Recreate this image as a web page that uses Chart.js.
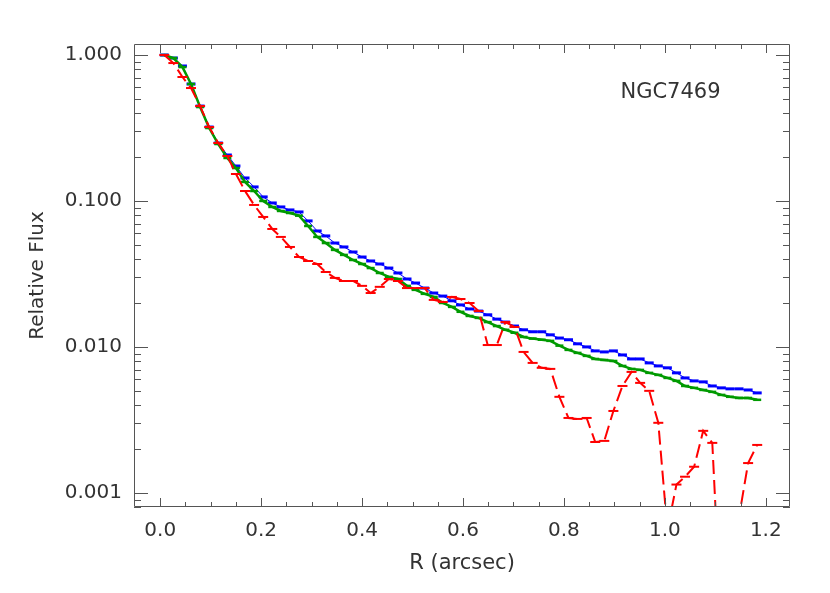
<!DOCTYPE html>
<html>
<head>
<meta charset="utf-8">
<script src="https://cdn.jsdelivr.net/npm/chart.js@4/dist/chart.umd.min.js"></script>
<style>
  html, body { margin: 0; padding: 0; background: #fff; }
  canvas { display: block; }
</style>
</head>
<body>
<canvas id="profile" width="830" height="593"></canvas>
<script>
// radius of each annulus (arcsec)
const radius = [
  0.008, 0.026, 0.044, 0.061, 0.079, 0.097, 0.115, 0.133, 0.150, 0.168,
  0.186, 0.204, 0.222, 0.239, 0.257, 0.275, 0.293, 0.311, 0.328, 0.346,
  0.364, 0.382, 0.400, 0.417, 0.435, 0.453, 0.471, 0.489, 0.506, 0.524,
  0.542, 0.560, 0.578, 0.595, 0.613, 0.631, 0.649, 0.667, 0.684, 0.702,
  0.720, 0.738, 0.756, 0.773, 0.791, 0.809, 0.827, 0.845, 0.862, 0.880,
  0.898, 0.916, 0.934, 0.951, 0.969, 0.987, 1.005, 1.023, 1.040, 1.058,
  1.076, 1.094, 1.112, 1.129, 1.147, 1.165, 1.183
];

const blueFlux = [
  1.000, 0.954, 0.841, 0.633, 0.447, 0.321, 0.2495, 0.2065, 0.1736, 0.1437,
  0.1248, 0.1066, 0.0969, 0.0910, 0.0868, 0.0841, 0.0730, 0.0623, 0.0576, 0.0515,
  0.0484, 0.0447, 0.0413, 0.0388, 0.0370, 0.0347, 0.0321, 0.0292, 0.0274, 0.0253,
  0.0234, 0.0223, 0.0207, 0.0194, 0.0182, 0.0176, 0.0166, 0.0155, 0.0148, 0.0139,
  0.0131, 0.0127, 0.0127, 0.0121, 0.0115, 0.0112, 0.0105, 0.0100, 0.00939, 0.00924,
  0.00939, 0.00881, 0.00827, 0.00827, 0.00777, 0.00741, 0.00719, 0.00664, 0.00613, 0.00585,
  0.00576, 0.00540, 0.00524, 0.00516, 0.00516, 0.00507, 0.00484
];

const greenFlux = [
  1.000, 0.954, 0.827, 0.633, 0.440, 0.316, 0.2456, 0.197, 0.168, 0.135,
  0.117, 0.100, 0.0910, 0.0854, 0.0827, 0.0793, 0.0674, 0.0567, 0.0515, 0.0462,
  0.0427, 0.0394, 0.0370, 0.0347, 0.0321, 0.0302, 0.0292, 0.0262, 0.0246, 0.0231,
  0.0220, 0.0200, 0.0188, 0.0174, 0.0163, 0.0158, 0.0148, 0.0139, 0.0131, 0.0125,
  0.0117, 0.0114, 0.0112, 0.0110, 0.0102, 0.00954, 0.00910, 0.00868, 0.00827, 0.00814,
  0.00801, 0.00741, 0.00707, 0.00696, 0.00664, 0.00643, 0.00613, 0.00585, 0.00540, 0.00524,
  0.00507, 0.00492, 0.00469, 0.00455, 0.00447, 0.00447, 0.00434
];

const redFlux = [
  1.000, 0.881, 0.707, 0.594, 0.447, 0.321, 0.2495, 0.2033, 0.1531, 0.117,
  0.0939, 0.0777, 0.0643, 0.0567, 0.0484, 0.0413, 0.0388, 0.0370, 0.0326, 0.0297,
  0.0283, 0.0283, 0.0262, 0.0234, 0.0258, 0.0292, 0.0283, 0.0253, 0.0253, 0.0253,
  0.0210, 0.0203, 0.0220, 0.0213, 0.0200, 0.0176, 0.0103, 0.0103, 0.0148, 0.0137,
  0.00924, 0.00777, 0.00719, 0.00707, 0.00455, 0.00326, 0.00321, 0.00326, 0.00223, 0.00227,
  0.00364, 0.00540, 0.00674, 0.00567, 0.00500, 0.00302, 0.000558, 0.00114, 0.00129, 0.00151,
  0.00266, 0.00220, 0.00012, 0.00012, 0.000685, 0.00160, 0.00213
];

const xTickValues = [0.0, 0.2, 0.4, 0.6, 0.8, 1.0, 1.2];
const yTickValues = [0.001, 0.01, 0.1, 1];

const axisColor = '#555';
const textColor = '#333';
const fontFamily = "'DejaVu Sans', sans-serif";

function points(values) {
  return radius.map((r, i) => ({ x: r, y: values[i] }));
}

// IDL style box: inward ticks on all four sides
const frameTicks = {
  id: 'frameTicks',
  afterDraw(chart) {
    const { ctx, chartArea: a, scales: { x, y } } = chart;
    ctx.save();
    ctx.strokeStyle = axisColor;
    ctx.lineWidth = 1;
    ctx.beginPath();
    ctx.rect(a.left + 0.5, a.top + 0.5, a.right - a.left - 1, a.bottom - a.top - 1);

    for (let k = 0; k <= 25; k++) {
      const v = k * 0.05;
      const px = Math.round(x.getPixelForValue(v)) + 0.5;
      if (px < a.left || px > a.right) continue;
      const len = k % 4 === 0 ? 9 : 5;
      ctx.moveTo(px, a.bottom);
      ctx.lineTo(px, a.bottom - len);
      ctx.moveTo(px, a.top);
      ctx.lineTo(px, a.top + len);
    }

    for (let d = -4; d <= 0; d++) {
      for (let m = 1; m <= 9; m++) {
        const v = m * Math.pow(10, d);
        if (v < y.min || v > y.max) continue;
        const py = Math.round(y.getPixelForValue(v)) + 0.5;
        const len = m === 1 ? 14 : 7;
        ctx.moveTo(a.left, py);
        ctx.lineTo(a.left + len, py);
        ctx.moveTo(a.right, py);
        ctx.lineTo(a.right - len, py);
      }
    }
    ctx.stroke();

    ctx.fillStyle = textColor;
    ctx.font = '21px ' + fontFamily;
    ctx.textAlign = 'left';
    ctx.textBaseline = 'middle';
    ctx.fillText('NGC7469', x.getPixelForValue(0.912), y.getPixelForValue(0.55));
    ctx.restore();
  }
};

new Chart(document.getElementById('profile'), {
  type: 'line',
  data: {
    datasets: [
      {
        label: 'red',
        data: points(redFlux),
        borderColor: '#ff0000',
        backgroundColor: '#ff0000',
        borderWidth: 2,
        borderDash: [14, 6],
        pointStyle: 'line',
        pointRadius: 5,
        pointBorderWidth: 2,
        order: 0
      },
      {
        label: 'green',
        data: points(greenFlux),
        borderColor: '#009a00',
        backgroundColor: '#009a00',
        borderWidth: 2.5,
        pointStyle: 'line',
        pointRadius: 4,
        pointBorderWidth: 2.5,
        order: 1
      },
      {
        label: 'blue',
        data: points(blueFlux),
        borderColor: '#0000ff',
        backgroundColor: '#0000ff',
        borderWidth: 1,
        pointStyle: 'line',
        pointRadius: 4.5,
        pointBorderWidth: 3,
        order: 2
      }
    ]
  },
  options: {
    responsive: false,
    animation: false,
    devicePixelRatio: 1,
    layout: {
      padding: { top: 44, right: 40, left: 0, bottom: 0 }
    },
    plugins: {
      legend: { display: false },
      tooltip: { enabled: false }
    },
    scales: {
      x: {
        type: 'linear',
        min: -0.052,
        max: 1.248,
        afterBuildTicks: s => { s.ticks = xTickValues.map(v => ({ value: v })); },
        afterFit: s => { s.height = 86; },
        grid: { display: false, drawTicks: false },
        border: { display: false },
        ticks: {
          padding: 12,
          maxRotation: 0,
          color: textColor,
          font: { family: fontFamily, size: 20 },
          callback: v => Number(v).toFixed(1)
        },
        title: {
          display: true,
          text: 'R (arcsec)',
          color: textColor,
          font: { family: fontFamily, size: 21 },
          padding: { top: 0, bottom: 17 }
        }
      },
      y: {
        type: 'logarithmic',
        min: 0.0008,
        max: 1.19,
        afterBuildTicks: s => { s.ticks = yTickValues.map(v => ({ value: v })); },
        afterFit: s => { s.width = 134; },
        grid: { display: false, drawTicks: false },
        border: { display: false },
        ticks: {
          padding: 12,
          color: textColor,
          font: { family: fontFamily, size: 20 },
          callback: v => Number(v).toFixed(3)
        },
        title: {
          display: true,
          text: 'Relative Flux',
          color: textColor,
          font: { family: fontFamily, size: 20 },
          padding: { top: 26, bottom: 0 }
        }
      }
    }
  },
  plugins: [frameTicks]
});
</script>
</body>
</html>
